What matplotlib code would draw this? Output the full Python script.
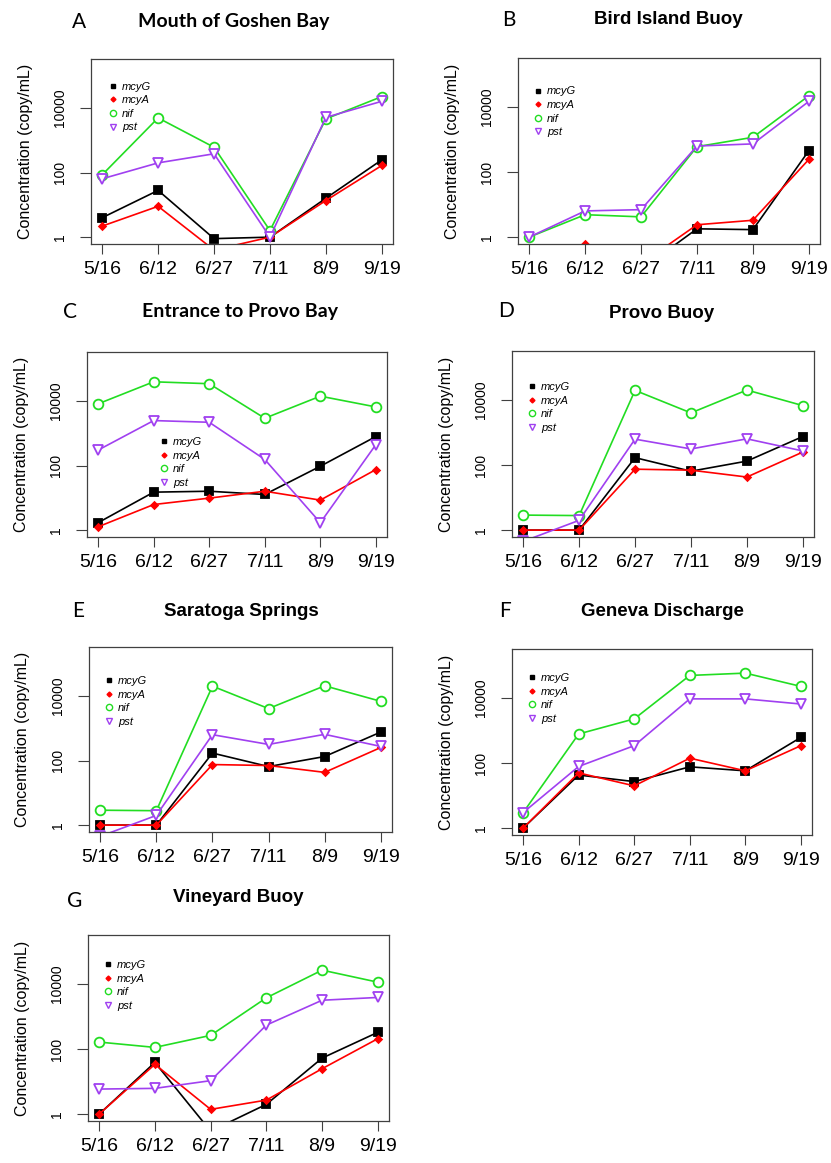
import matplotlib
matplotlib.use('Agg')
import matplotlib.pyplot as plt
from matplotlib.lines import Line2D

# sampling dates and genes
dates = ['5/16', '6/12', '6/27', '7/11', '8/9', '9/19']
genes = ['mcyG', 'mcyA', 'nif', 'pst']
panel_letters = ['A', 'B', 'C', 'D', 'E', 'F', 'G']
site_names = ['Mouth of Goshen Bay', 'Bird Island Buoy', 'Entrance to Provo Bay', 'Provo Buoy',
              'Saratoga Springs', 'Geneva Discharge', 'Vineyard Buoy']

# concentration (copy/mL)
goshen_mcyG = [4, 28, 0.9, 1, 16, 247]
goshen_mcyA = [2.2, 9, 0.4, 1, 13.6, 165]
goshen_nif = [85, 4900, 605, 1.6, 4570, 22400]
goshen_pst = [64, 199, 380, 1, 5100, 16000]

bird_mcyG = [0.1, 0.1, 0.1, 1.8, 1.7, 456]
bird_mcyA = [0.1, 0.62, 0.15, 2.4, 3.3, 246]
bird_nif = [1, 4.9, 4.2, 608, 1180, 22400]
bird_pst = [1, 6.4, 7, 636, 740, 15000]

entrance_mcyG = [1.7, 15, 16, 12.7, 95, 790]
entrance_mcyA = [1.27, 6.2, 9.8, 16, 8.5, 75]
entrance_nif = [8100, 39000, 34000, 2900, 14000, 6500]
entrance_pst = [300, 2460, 2180, 154, 1.7, 445]

provo_mcyG = [1, 1, 170, 65, 133, 760]
provo_mcyA = [1, 1, 75, 70, 43, 253]
provo_nif = [2.9, 2.8, 20000, 4050, 20500, 6800]
provo_pst = [0.45, 2.0, 630, 315, 645, 273]

saratoga_mcyG = [1, 1, 170, 65, 133, 760]
saratoga_mcyA = [1, 1, 75, 70, 43, 253]
saratoga_nif = [2.9, 2.8, 20000, 4050, 20500, 6800]
saratoga_pst = [0.45, 2.0, 630, 315, 645, 273]

geneva_mcyG = [1, 43, 27, 77, 58, 620]
geneva_mcyA = [1, 50, 20, 142, 58, 345]
geneva_nif = [3.0, 790, 2300, 50000, 59000, 23000]
geneva_pst = [3.0, 79, 345, 9500, 9500, 6600]

vineyard_mcyG = [1, 39, 0.3, 2.0, 53, 330]
vineyard_mcyA = [1, 34, 1.4, 2.7, 25, 210]
vineyard_nif = [165, 113, 265, 3800, 27000, 11500]
vineyard_pst = [5.9, 6.2, 10.7, 550, 3200, 3900]

site_data = [
    [goshen_mcyG, goshen_mcyA, goshen_nif, goshen_pst],
    [bird_mcyG, bird_mcyA, bird_nif, bird_pst],
    [entrance_mcyG, entrance_mcyA, entrance_nif, entrance_pst],
    [provo_mcyG, provo_mcyA, provo_nif, provo_pst],
    [saratoga_mcyG, saratoga_mcyA, saratoga_nif, saratoga_pst],
    [geneva_mcyG, geneva_mcyA, geneva_nif, geneva_pst],
    [vineyard_mcyG, vineyard_mcyA, vineyard_nif, vineyard_pst],
]

# styles per gene
colors = ['black', '#ff0000', '#22dd22', '#a040f0']
markers = ['s', 'D', 'o', 'v']
msizes = [5.5, 3.5, 7, 7.5]
leg_msizes = [3.5, 2.5, 4.5, 5]
face = ['black', '#ff0000', 'white', 'white']

# layout in pixels: axes (left, right, top, bottom), title center, letter center
W, H = 831, 1163
axes_px = [(91, 393, 59, 244), (518, 820, 58, 244), (87, 387, 352, 537), (512, 814, 351, 537),
           (89, 392, 647, 832), (512, 812, 649, 835), (88, 389, 935, 1121)]
title_px = [(234, 22), (668, 20), (240, 312), (662, 313), (241, 611), (662, 611), (238, 897)]
letter_px = [(79, 22), (509, 20), (70, 312), (506, 311), (78, 611), (505, 611), (75, 901)]
legend_px = [(22, 0.85), (20, 0.82), (77, 0.513), (20, 0.806), (20, 0.816), (20, 0.844), (20, 0.839)]
calibri_like = [True, False, True, False, False, False, False]

plt.rcParams['font.family'] = ['Liberation Sans', 'DejaVu Sans']
fig = plt.figure(figsize=(W / 100, H / 100), dpi=100)
x = list(range(1, len(dates) + 1))

for i in range(len(site_names)):
    l, r, t, b = axes_px[i]
    ax = fig.add_axes([l / W, 1 - b / H, (r - l) / W, (b - t) / H])
    for j, gene in enumerate(genes):
        ax.plot(x, site_data[i][j], color=colors[j], lw=1.2, marker=markers[j], ms=msizes[j],
                mfc=face[j], mec=colors[j], mew=1.3, clip_on=True)
    ax.set_yscale('log')
    ax.set_ylim(10 ** -0.212, 10 ** 5.513)
    ax.set_xlim(0.8, 6.2)
    ax.set_yticks([1, 100, 10000])
    ax.set_yticklabels(['1', '100', '10000'], rotation=90, va='center', fontsize=10)
    ax.minorticks_off()
    ax.set_xticks(x)
    ax.set_xticklabels(dates, fontsize=14)
    ax.tick_params(axis='y', length=8, pad=9, color='#404040')
    ax.tick_params(axis='x', length=7, pad=5, color='#404040')
    for sp in ax.spines.values():
        sp.set_color('#404040')
        sp.set_linewidth(0.9)
    ax.text(-0.218, 0.5, 'Concentration (copy/mL)', transform=ax.transAxes, rotation=90,
            ha='center', va='center', fontsize=11.5)

    # legend with markers only
    handles = [Line2D([], [], ls='none', marker=markers[j], ms=leg_msizes[j], mfc=face[j],
                      mec=colors[j], mew=1.0) for j in range(len(genes))]
    off, row1 = legend_px[i]
    leg = ax.legend(handles, genes, loc='upper left',
                    bbox_to_anchor=((off - 4.4) / (r - l), row1 + 5.0 / (b - t)),
                    frameon=False, borderpad=0, borderaxespad=0, handlelength=0.8,
                    handletextpad=0.4, labelspacing=0.32, prop={'style': 'italic', 'size': 8})

    tx, ty = title_px[i]
    if calibri_like[i]:
        fig.text(tx / W, 1 - ty / H, site_names[i], ha='center', va='center', fontsize=14,
                 fontweight='bold', family='Lato')
    else:
        fig.text(tx / W, 1 - ty / H, site_names[i], ha='center', va='center', fontsize=13.5,
                 fontweight='bold')
    lx, ly = letter_px[i]
    fig.text(lx / W, 1 - ly / H, panel_letters[i], ha='center', va='center', fontsize=15,
             family='Lato')

fig.savefig('out.png', dpi=100)
